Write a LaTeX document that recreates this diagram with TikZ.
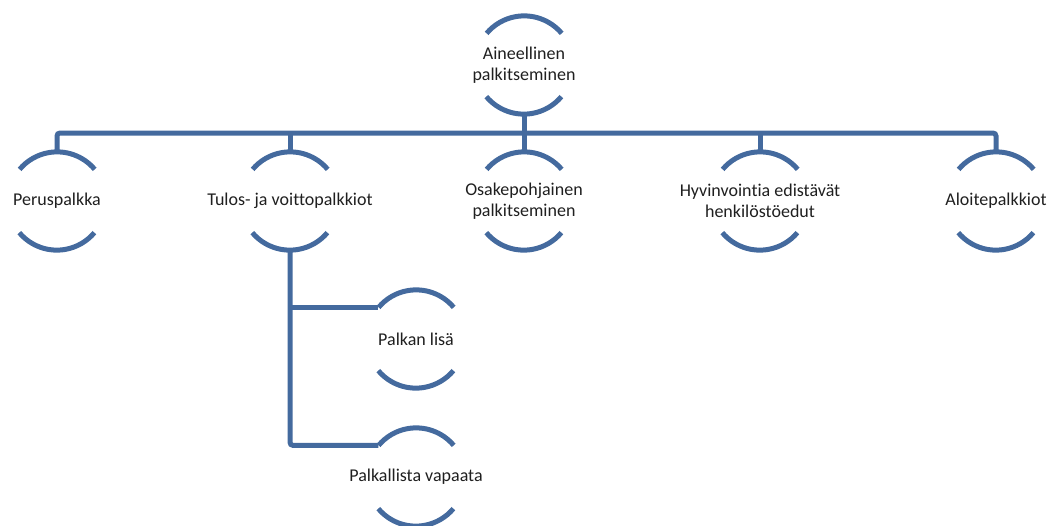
\documentclass[tikz,border=0pt]{standalone}
\usepackage{fontspec}
\setmainfont{Carlito}[Ligatures=NoCommon]
\definecolor{ringblue}{RGB}{68,106,158}
\tikzset{
  ring/.style={circle, minimum size=98pt, inner sep=0pt, draw=none,
    label={[font=\fontsize{18}{21}\selectfont, align=center, text=black!88]center:#1}},
  conn/.style={draw=ringblue, line width=5pt},
  arcline/.style={draw=ringblue, line width=5pt},
}
\newcommand{\ringarcs}[1]{%
  \draw[arcline] (#1.40) arc (40:140:49pt);
  \draw[arcline] (#1.220) arc (220:320:49pt);
}
\begin{document}
\begin{tikzpicture}[x=1pt,y=1pt]
\useasboundingbox (0,0) rectangle (1048,-525);

% top level
\node[ring={Aineellinen\\palkitseminen}] (top) at (524,-65) {};

% second level
\node[ring={Peruspalkka}] (c1) at (57,-201) {};
\node[ring={Tulos- ja voittopalkkiot}] (c2) at (290,-201) {};
\node[ring={Osakepohjainen\\palkitseminen}] (c3) at (524,-201) {};
\node[ring={Hyvinvointia edistävät\\henkilöstöedut}] (c4) at (760,-201) {};
\node[ring={Aloitepalkkiot}] (c5) at (996,-201) {};

% third level
\node[ring={Palkan lisä}] (s1) at (416,-339) {};
\node[ring={Palkallista vapaata}] (s2) at (416,-477) {};

\coordinate (bus) at (524,-133);

% connectors
\draw[conn, rounded corners=3pt] (c1.north) |- (bus) -| (c5.north);
\draw[conn] (top.south) -- (c3.north);
\draw[conn] (c2.north) -- (c2.north |- bus);
\draw[conn] (c4.north) -- (c4.north |- bus);
\draw[conn, rounded corners=3pt] (c2.south) |- (s2.140);
\draw[conn] (c2.south |- s1.140) -- (s1.140);

% rings
\foreach \n in {top,c1,c2,c3,c4,c5,s1,s2} { \ringarcs{\n} }
\end{tikzpicture}
\end{document}
